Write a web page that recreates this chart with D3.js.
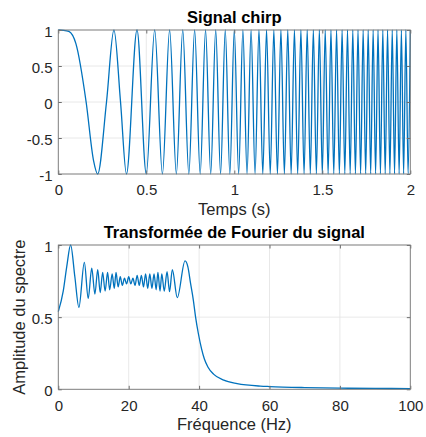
<!DOCTYPE html>
<html><head><meta charset="utf-8">
<script src="https://cdn.jsdelivr.net/npm/d3@7"></script>
<style>
body{margin:0;background:#fff}
svg{display:block}
text{font-family:"Liberation Sans",Arial,Helvetica,sans-serif}
</style>
</head><body><svg id="c" width="426" height="437"></svg>
<script>
// ---- Chirp signal: times (s) of the maxima (+1), minima (-1), plus a few read points on the first slow swings ----
const chirpPeakTimes = [0, 0.3162, 0.4472, 0.5477, 0.6325, 0.7071, 0.7746, 0.8367, 0.8944, 0.9487, 1.0,
  1.0488, 1.0954, 1.1402, 1.1832, 1.2247, 1.2649, 1.3038, 1.3416, 1.3784, 1.4142, 1.4491, 1.4832,
  1.5166, 1.5492, 1.5811, 1.6125, 1.6432, 1.6733, 1.7029, 1.7321, 1.7607, 1.7889, 1.8166, 1.8439,
  1.8708, 1.8974, 1.9235, 1.9494, 1.9748, 2.0];
const chirpTroughTimes = [0.2236, 0.3873, 0.5, 0.5916, 0.6708, 0.7416, 0.8062, 0.8660, 0.9220, 0.9747,
  1.0247, 1.0724, 1.1180, 1.1619, 1.2042, 1.2450, 1.2845, 1.3229, 1.3601, 1.3964, 1.4318, 1.4663,
  1.5, 1.5330, 1.5652, 1.5969, 1.6279, 1.6583, 1.6882, 1.7176, 1.7464, 1.7748, 1.8028, 1.8303,
  1.8574, 1.8841, 1.9105, 1.9365, 1.9621, 1.9875];
const chirpEarlyTimes  = [0.03, 0.06, 0.1, 0.1581, 0.2, 0.2739, 0.3536];
const chirpEarlyValues = [0.996, 0.98, 0.81, 0.0, -0.81, 0.0, 0.0];
const timeTicks = [0, 0.5, 1, 1.5, 2];
const signalTicks = [-1, -0.5, 0, 0.5, 1];

// ---- Spectrum (normalised amplitude) ----
const specFreq = [0, 1.4, 2.4, 3.5, 4.7, 5.85, 7.4, 8.5, 9.5, 10.4, 11.2, 11.9, 12.6, 13.3, 14.0, 14.6,
  15.3, 15.9, 16.4, 17.0, 17.6, 18.2, 18.8, 19.4, 20.0, 20.6, 21.2, 21.8, 22.4, 23.0, 23.6, 24.2,
  24.8, 25.4, 26.0, 26.6, 27.2, 27.8, 28.3, 28.9, 29.4, 30.1, 30.9, 31.6, 32.4, 33.8, 36.0, 36.8,
  37.6, 38.35, 39.0, 39.8, 40.7, 41.5, 42.5, 44.1, 47.0, 50.8, 57.4, 60, 70, 80, 90, 100];
const specAmp = [0.538, 0.68, 0.85, 1.0, 0.78, 0.568, 0.88, 0.63, 0.84, 0.66, 0.83, 0.67, 0.81, 0.68, 0.81, 0.69,
  0.80, 0.70, 0.81, 0.71, 0.78, 0.72, 0.77, 0.73, 0.78, 0.73, 0.77, 0.72, 0.79, 0.72, 0.79, 0.71,
  0.80, 0.70, 0.80, 0.70, 0.80, 0.69, 0.81, 0.68, 0.80, 0.68, 0.815, 0.677, 0.83, 0.635, 0.89, 0.85,
  0.73, 0.62, 0.50, 0.385, 0.28, 0.21, 0.155, 0.105, 0.063, 0.039, 0.022, 0.019, 0.012, 0.008, 0.006, 0.005];
const freqTicks = [0, 20, 40, 60, 80, 100];
const ampTicks = [0, 0.5, 1];

const BLUE = "#0072BD", TXT = "#262626";
const svg = d3.select("#c");

function panel(o) {
  const x = d3.scaleLinear().domain(o.xDomain).range([58.3, 410.3]);
  const y = d3.scaleLinear().domain(o.yDomain).range([o.bottom, o.top]);
  const g = svg.append("g");
  // grid
  g.append("g").selectAll("line").data(o.xTicks).join("line")
    .attr("x1", d => x(d)).attr("x2", d => x(d)).attr("y1", o.top).attr("y2", o.bottom)
    .attr("stroke", "#e2e2e2").attr("stroke-width", 0.8);
  g.append("g").selectAll("line").data(o.yTicks).join("line")
    .attr("y1", d => y(d)).attr("y2", d => y(d)).attr("x1", x.range()[0]).attr("x2", x.range()[1])
    .attr("stroke", "#e2e2e2").attr("stroke-width", 0.8);
  // line
  g.append("path").datum(o.data)
    .attr("fill", "none").attr("stroke", BLUE).attr("stroke-width", 1.3)
    .attr("stroke-linejoin", "round")
    .attr("d", d3.line().x(d => x(d[0])).y(d => y(d[1])).curve(d3.curveMonotoneX));
  // axes (inward ticks)
  const tl = 3.5;
  const ax = (gen, tr) => {
    const a = g.append("g").attr("transform", tr).call(gen);
    a.select(".domain").remove();
    a.selectAll("line").attr("stroke", "#6e6e6e");
    a.selectAll("text").attr("fill", TXT).style("font-size", "15px");
    return a;
  };
  ax(d3.axisBottom(x).tickValues(o.xTicks).tickFormat(o.xFmt).tickSizeInner(-tl).tickSizeOuter(0).tickPadding(10.8),
    `translate(0,${o.bottom})`);
  ax(d3.axisTop(x).tickValues(o.xTicks).tickSizeInner(-tl).tickSizeOuter(0).tickFormat(""), `translate(0,${o.top})`);
  const ly = ax(d3.axisLeft(y).tickValues(o.yTicks).tickFormat(o.yFmt).tickSizeInner(-tl).tickSizeOuter(0).tickPadding(5.8),
    `translate(58.3,0)`);
  ly.selectAll("text").attr("dy", "0.43em");
  ax(d3.axisRight(y).tickValues(o.yTicks).tickSizeInner(-tl).tickSizeOuter(0).tickFormat(""), `translate(410.3,0)`);
  // box
  g.append("rect").attr("x", 58.3).attr("y", o.top).attr("width", 352).attr("height", o.bottom - o.top)
    .attr("fill", "none").attr("stroke", "#7a7a7a").attr("stroke-width", 0.9);
  // title & labels
  g.append("text").attr("x", 234.3).attr("y", o.top - 7.5).attr("text-anchor", "middle")
    .style("font-size", "16.5px").style("font-weight", "bold").attr("fill", "#000").text(o.title);
  g.append("text").attr("x", 234.3).attr("y", o.bottom + 40.5).attr("text-anchor", "middle")
    .style("font-size", "16.5px").attr("fill", TXT).text(o.xLabel);
  if (o.yLabel) {
    g.append("text").attr("transform", `translate(25,${(o.top + o.bottom) / 2}) rotate(-90)`)
      .attr("text-anchor", "middle").style("font-size", "16.5px").attr("fill", TXT).text(o.yLabel);
  }
}

const fmt = d => String(d);
const chirpPts = [
  ...chirpPeakTimes.map(t => [t, 1]),
  ...chirpTroughTimes.map(t => [t, -1]),
  ...chirpEarlyTimes.map((t, i) => [t, chirpEarlyValues[i]])
].sort((a, b) => a[0] - b[0]);

panel({
  data: chirpPts, xDomain: [0, 2], yDomain: [-1, 1], top: 30, bottom: 174,
  xTicks: timeTicks, yTicks: signalTicks, xFmt: fmt, yFmt: fmt,
  title: "Signal chirp", xLabel: "Temps (s)"
});

panel({
  data: specFreq.map((f, i) => [f, specAmp[i]]), xDomain: [0, 100], yDomain: [0, 1], top: 245, bottom: 389.3,
  xTicks: freqTicks, yTicks: ampTicks, xFmt: fmt, yFmt: fmt,
  title: "Transformée de Fourier du signal", xLabel: "Fréquence (Hz)", yLabel: "Amplitude du spectre"
});
</script>
</body></html>
